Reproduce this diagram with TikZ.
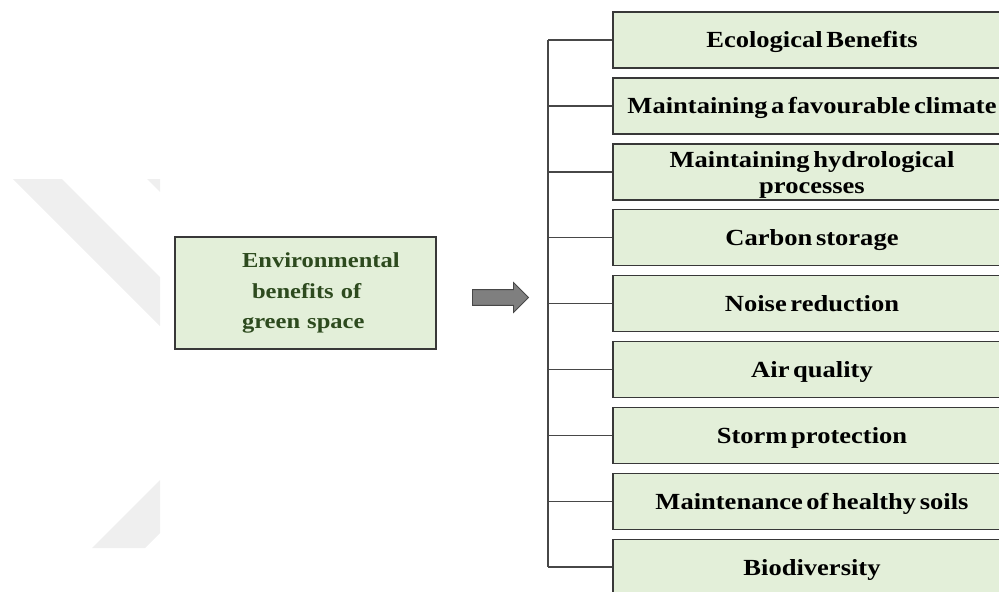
\documentclass[tikz,border=0pt]{standalone}
\usepackage{fontspec}
\setmainfont{Liberation Serif}[FakeStretch=1.15]
\newfontfamily\tightserif{Liberation Serif}[FakeStretch=1.15, WordSpace=0.55]
\usetikzlibrary{shapes.arrows}

\definecolor{boxfill}{HTML}{E3EFD9}
\definecolor{boxline}{HTML}{383838}
\definecolor{titlegreen}{HTML}{2D4A1E}
\definecolor{connline}{HTML}{474747}
\definecolor{markgray}{HTML}{EFEFEF}
\definecolor{arrowfill}{HTML}{7F7F7F}

\tikzset{
  mark shape/.style={fill=markgray},
  source box/.style={draw=boxline, line width=1.05pt, fill=boxfill,
    minimum width=195.75pt, minimum height=84pt,
    text width=195.75pt, align=left,
    text=titlegreen, inner sep=0pt,
    font=\fontsize{16}{23}\selectfont\bfseries},
  benefit box/.style={draw=boxline, line width=1.05pt, fill=boxfill,
    minimum width=298.5pt, minimum height=42pt, align=center,
    inner sep=0pt, text=black,
    font=\tightserif\fontsize{17.3}{19.5}\selectfont\bfseries},
  one line/.style={text height=13pt, text depth=1pt},
  two lines/.style={text height=13pt, text depth=20.2pt},
  conn/.style={draw=connline, line width=1.1pt},
  block arrow/.style={single arrow, draw=connline, fill=arrowfill,
    line width=0.6pt, minimum height=42pt, inner xsep=0pt,
    inner ysep=5.6pt, single arrow head extend=5.25pt}
}

\begin{document}
\begin{tikzpicture}[x=0.75pt, y=-0.75pt]
  \useasboundingbox (0,0) rectangle (999,592);
  \clip (0,0) rectangle (999,592);

  % faint background emblem
  \fill[mark shape] (13,179) -- (62,179) -- (160,277) -- (160,326) -- cycle;
  \fill[mark shape] (147,179) -- (160,179) -- (160,192) -- cycle;
  \fill[mark shape] (92,548) -- (160,480) -- (160,533) -- (145,548) -- cycle;

  % main topic
  \node[source box] (src) at (305.5,293)
    {\hspace*{50.25pt}Environmental\\
     \hspace*{57.75pt}benefits of\\
     \hspace*{50.25pt}green space};

  % pointer arrow
  \node[block arrow] (arr) at (496.5,297.5) {};

  % list of benefits
  \node[benefit box, one line] (b1) at (812,40.0)  {Ecological Benefits};
  \node[benefit box, one line] (b2) at (812,105.9) {Maintaining a favourable climate};
  \node[benefit box, two lines] (b3) at (812,171.8)
    {\begin{tabular}[t]{@{}c@{}}Maintaining hydrological\\processes\end{tabular}};
  \node[benefit box, one line] (b4) at (812,237.7) {Carbon storage};
  \node[benefit box, one line] (b5) at (812,303.6) {Noise reduction};
  \node[benefit box, one line] (b6) at (812,369.5) {Air quality};
  \node[benefit box, one line] (b7) at (812,435.4) {Storm protection};
  \node[benefit box, one line] (b8) at (812,501.3) {Maintenance of healthy soils};
  \node[benefit box, one line] (b9) at (812,567.2) {Biodiversity};

  % bracket joining the list
  \coordinate (spine) at (548,0);
  \draw[conn] (spine |- b1.west) -- (spine |- b9.west);
  \foreach \i in {1,...,9}
    \draw[conn] (spine |- b\i.west) -- (b\i.west);
\end{tikzpicture}
\end{document}
